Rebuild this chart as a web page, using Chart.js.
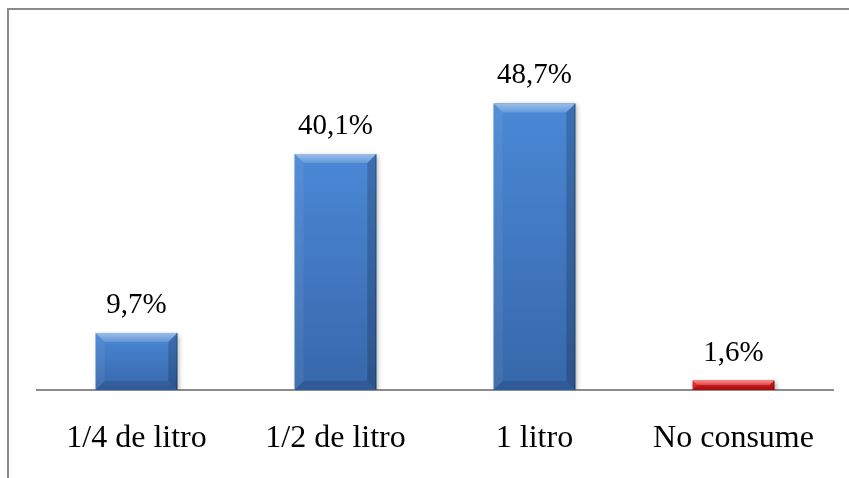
<!DOCTYPE html>
<html lang="es">
  <head>
    <meta charset="UTF-8" />
    <title>Consumo diario</title>
    <script src="https://cdn.jsdelivr.net/npm/chart.js"></script>
    <style>
      html, body { margin: 0; padding: 0; background: #fff; }
      .graph { position: relative; width: 849px; height: 478px; }
    </style>
  </head>
  <body>
    <div class="graph">
      <canvas id="myChart"></canvas>
    </div>

<script>
  // datos del grafico
  var categorias = ["1/4 de litro", "1/2 de litro", "1 litro", "No consume"];
  var porcentajes = [9.7, 40.1, 48.7, 1.6];
  var etiquetas = ["9,7%", "40,1%", "48,7%", "1,6%"];
  var cores = ["#4178c0", "#4178c0", "#4178c0", "#dc1414"];
  // tonos claro/oscuro del degradado de cada barra
  var claros = ["#4a88d6", "#4a88d6", "#4a88d6", "#f02a2a"];
  var oscuros = ["#3767aa", "#3767aa", "#3767aa", "#c00d10"];

  var fonte = "'Liberation Serif', 'Times New Roman', serif";

  // marco gris arriba y a la izquierda
  var marco = {
    id: "marco",
    beforeDraw: function (chart) {
      var ctx = chart.ctx;
      ctx.save();
      ctx.strokeStyle = "#8a8a8a";
      ctx.lineWidth = 2;
      ctx.beginPath();
      ctx.moveTo(8, 478);
      ctx.lineTo(8, 9);
      ctx.lineTo(849, 9);
      ctx.stroke();
      ctx.restore();
    }
  };

  // sombra de las barras
  var sombra = {
    id: "sombra",
    beforeDatasetDraw: function (chart) {
      var ctx = chart.ctx;
      ctx.save();
      ctx.shadowColor = "rgba(0,0,0,0.35)";
      ctx.shadowBlur = 5;
      ctx.shadowOffsetX = 2;
      ctx.shadowOffsetY = 2;
    },
    afterDatasetDraw: function (chart) {
      chart.ctx.restore();
    }
  };

  function trapecio(ctx, pts, color) {
    ctx.fillStyle = color;
    ctx.beginPath();
    ctx.moveTo(pts[0], pts[1]);
    for (var k = 2; k < pts.length; k += 2) ctx.lineTo(pts[k], pts[k + 1]);
    ctx.closePath();
    ctx.fill();
  }

  // degradado, biselado y etiquetas de valor
  var bisel = {
    id: "bisel",
    afterDatasetsDraw: function (chart) {
      var ctx = chart.ctx;
      var meta = chart.getDatasetMeta(0);
      meta.data.forEach(function (bar, i) {
        var x0 = bar.x - bar.width / 2, x1 = bar.x + bar.width / 2;
        var y0 = bar.y, y1 = bar.base;
        var b = Math.min(9, (y1 - y0) / 2);
        ctx.save();
        var g = ctx.createLinearGradient(0, y0, 0, y1);
        g.addColorStop(0, claros[i]);
        g.addColorStop(1, oscuros[i]);
        ctx.fillStyle = g;
        ctx.fillRect(x0, y0, x1 - x0, y1 - y0);

        var gt = ctx.createLinearGradient(0, y0, 0, y0 + b);
        gt.addColorStop(0, "rgba(255,255,255,0.45)");
        gt.addColorStop(1, "rgba(255,255,255,0.15)");
        trapecio(ctx, [x0, y0, x1, y0, x1 - b, y0 + b, x0 + b, y0 + b], gt);
        trapecio(ctx, [x0, y0, x0 + b, y0 + b, x0 + b, y1 - b, x0, y1], "rgba(255,255,255,0.06)");
        trapecio(ctx, [x1, y0, x1 - b, y0 + b, x1 - b, y1 - b, x1, y1], "rgba(0,0,0,0.18)");
        trapecio(ctx, [x0, y1, x1, y1, x1 - b, y1 - b, x0 + b, y1 - b], "rgba(0,0,0,0.12)");
        ctx.strokeStyle = "rgba(0,0,0,0.25)";
        ctx.lineWidth = 1;
        ctx.beginPath();
        ctx.moveTo(x1 - 0.5, y0);
        ctx.lineTo(x1 - 0.5, y1);
        ctx.stroke();
        ctx.restore();

        ctx.save();
        ctx.fillStyle = "#000";
        ctx.font = "29px " + fonte;
        ctx.textAlign = "center";
        ctx.textBaseline = "alphabetic";
        ctx.fillText(etiquetas[i], bar.x, bar.y - 20);
        ctx.restore();
      });
    }
  };

  const ctx = document.getElementById("myChart");
  new Chart(ctx, {
    type: "bar",
    data: {
      labels: categorias,
      datasets: [
        {
          data: porcentajes,
          backgroundColor: cores,
          borderWidth: 0,
          categoryPercentage: 1,
          barPercentage: 0.41
        }
      ]
    },
    options: {
      responsive: true,
      maintainAspectRatio: false,
      animation: false,
      layout: { padding: { left: 37, right: 16, top: 37, bottom: 0 } },
      plugins: { legend: { display: false }, tooltip: { enabled: false } },
      scales: {
        y: { display: false, min: 0, max: 60 },
        x: {
          grid: { display: false, drawTicks: false },
          border: { display: true, color: "#8c8c8c", width: 2 },
          ticks: { color: "#000", padding: 29, maxRotation: 0, font: { family: fonte, size: 32 } },
          afterFit: function (axis) { axis.height = 88; }
        }
      }
    },
    plugins: [marco, sombra, bisel]
  });
</script>
  </body>
</html>
